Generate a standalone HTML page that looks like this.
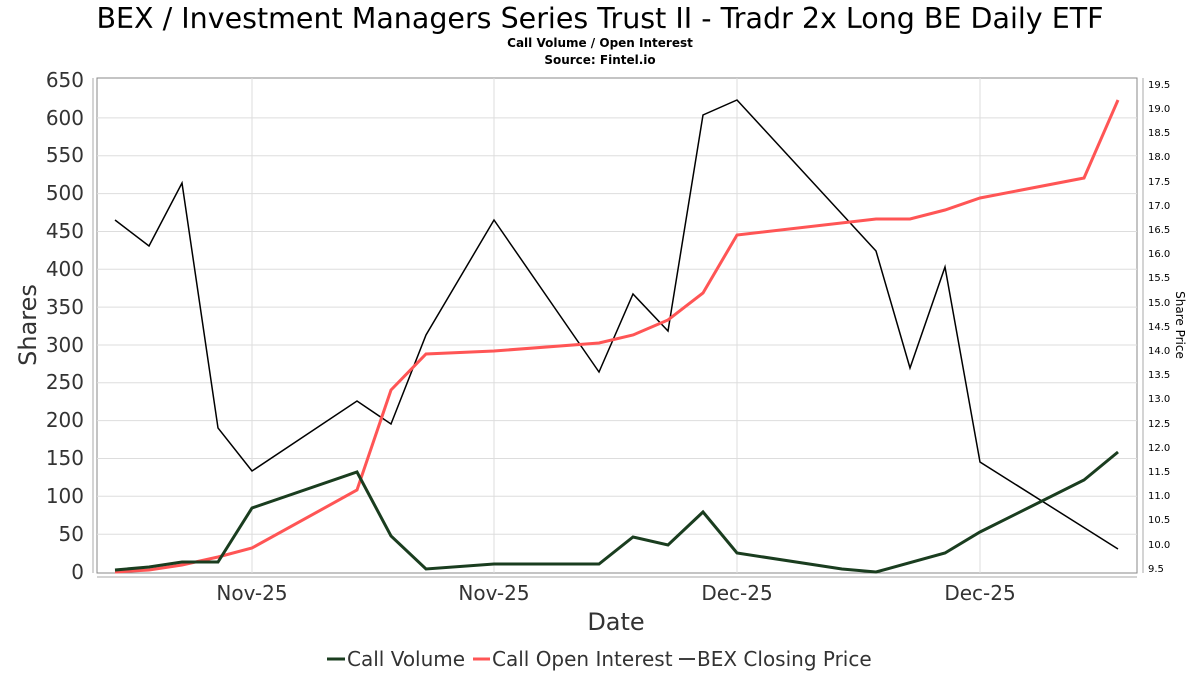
<!DOCTYPE html>
<html><head><meta charset="utf-8"><style>
body{margin:0;background:#fff;width:1200px;height:675px;overflow:hidden}
svg{font-family:"DejaVu Sans","Liberation Sans",sans-serif}
</style></head><body>
<svg width="1200" height="675" xmlns="http://www.w3.org/2000/svg">
<text x="600" y="28" font-size="28.5" text-anchor="middle" fill="#000">BEX / Investment Managers Series Trust II - Tradr 2x Long BE Daily ETF</text>
<text x="600" y="47" font-size="12" font-weight="bold" text-anchor="middle">Call Volume / Open Interest</text>
<text x="600" y="64" font-size="12" font-weight="bold" text-anchor="middle">Source: Fintel.io</text>
<rect x="97" y="78" width="1040" height="495" fill="#fff" stroke="#888" stroke-width="1"/>
<g stroke="#ddd" stroke-width="1">
<line x1="97" x2="1137" y1="534.2" y2="534.2"/><line x1="97" x2="1137" y1="496.3" y2="496.3"/>
<line x1="97" x2="1137" y1="458.5" y2="458.5"/><line x1="97" x2="1137" y1="420.6" y2="420.6"/>
<line x1="97" x2="1137" y1="382.8" y2="382.8"/><line x1="97" x2="1137" y1="345" y2="345"/>
<line x1="97" x2="1137" y1="307.1" y2="307.1"/><line x1="97" x2="1137" y1="269.3" y2="269.3"/>
<line x1="97" x2="1137" y1="231.5" y2="231.5"/><line x1="97" x2="1137" y1="193.6" y2="193.6"/>
<line x1="97" x2="1137" y1="155.8" y2="155.8"/><line x1="97" x2="1137" y1="117.9" y2="117.9"/>
<line x1="252" x2="252" y1="78" y2="573"/><line x1="494" x2="494" y1="78" y2="573"/>
<line x1="737" x2="737" y1="78" y2="573"/><line x1="980" x2="980" y1="78" y2="573"/>
</g>
<line x1="93" x2="93" y1="78" y2="573" stroke="#aaa"/>
<line x1="97" x2="1137" y1="577" y2="577" stroke="#aaa"/>
<line x1="1143" x2="1143" y1="78" y2="573" stroke="#aaa"/>
<g font-size="20" fill="#333" text-anchor="end">
<text x="84" y="579">0</text><text x="84" y="541">50</text><text x="84" y="503">100</text>
<text x="84" y="465">150</text><text x="84" y="427">200</text><text x="84" y="389">250</text>
<text x="84" y="352">300</text><text x="84" y="314">350</text><text x="84" y="276">400</text>
<text x="84" y="238">450</text><text x="84" y="200">500</text><text x="84" y="162">550</text>
<text x="84" y="125">600</text><text x="84" y="87">650</text>
</g>
<g font-size="20" fill="#333" text-anchor="middle">
<text x="252" y="600">Nov-25</text><text x="494" y="600">Nov-25</text>
<text x="737" y="600">Dec-25</text><text x="980" y="600">Dec-25</text>
<text x="616" y="630" font-size="24">Date</text>
</g>
<text transform="translate(36,325) rotate(-90)" font-size="24" fill="#333" text-anchor="middle">Shares</text>
<g font-size="10" fill="#000">
<text x="1148" y="572">9.5</text><text x="1148" y="548">10.0</text><text x="1148" y="523">10.5</text>
<text x="1148" y="499">11.0</text><text x="1148" y="475">11.5</text><text x="1148" y="451">12.0</text>
<text x="1148" y="427">12.5</text><text x="1148" y="402">13.0</text><text x="1148" y="378">13.5</text>
<text x="1148" y="354">14.0</text><text x="1148" y="330">14.5</text><text x="1148" y="306">15.0</text>
<text x="1148" y="281">15.5</text><text x="1148" y="257">16.0</text><text x="1148" y="233">16.5</text>
<text x="1148" y="209">17.0</text><text x="1148" y="185">17.5</text><text x="1148" y="160">18.0</text>
<text x="1148" y="136">18.5</text><text x="1148" y="112">19.0</text><text x="1148" y="88">19.5</text>
</g>
<text transform="translate(1176,325) rotate(90)" font-size="12" fill="#000" text-anchor="middle">Share Price</text>
<polyline fill="none" stroke="#000" stroke-width="1.5" points="115,220 149,246 182,183 218,428 252,471 357,401 391,424 426,335 494,220 599,372 633,294 668,331 703,115 737,100 876,251 910,368 945,267 980,462 1118,549"/>
<polyline fill="none" stroke="#ff5555" stroke-width="3" points="115,572 149,570 182,565 218,557 252,548 357,490 391,390 426,354 494,351 599,343 633,335 668,320 703,293 737,235 876,219 910,219 945,210 980,198 1084,178 1118,100"/>
<polyline fill="none" stroke="#1a3d1f" stroke-width="3" points="115,570 149,567 182,562 218,562 252,508 357,472 391,536 426,569 494,564 599,564 633,537 668,545 703,512 737,553 842,569 876,572 945,553 980,532 1084,480 1118,452"/>
<g font-size="20" fill="#333">
<line x1="327" x2="345" y1="659" y2="659" stroke="#1a3d1f" stroke-width="3"/>
<text x="347" y="666">Call Volume</text>
<line x1="473" x2="490" y1="659" y2="659" stroke="#ff5555" stroke-width="3"/>
<text x="492" y="666">Call Open Interest</text>
<line x1="679" x2="695" y1="659" y2="659" stroke="#000" stroke-width="1.5"/>
<text x="697" y="666">BEX Closing Price</text>
</g>
</svg>
</body></html>
